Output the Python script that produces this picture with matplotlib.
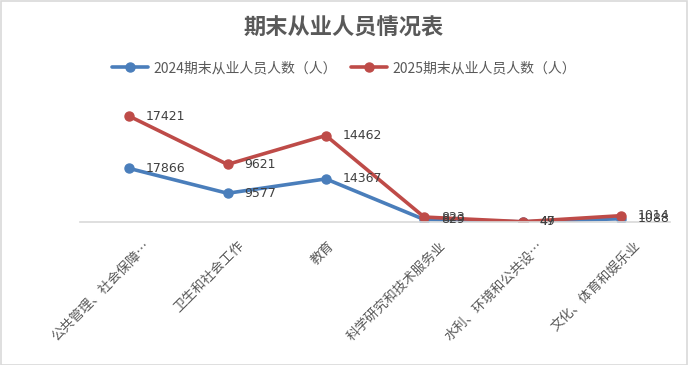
import matplotlib

matplotlib.use("Agg")
import matplotlib.pyplot as plt
import matplotlib.transforms as mtransforms
import numpy as np
from matplotlib.patches import Rectangle

plt.rcParams["font.family"] = ["Noto Sans CJK SC", "DejaVu Sans"]

categories = ["公共管理、社会保障…", "卫生和社会工作", "教育",
              "科学研究和技术服务业", "水利、环境和公共设…", "文化、体育和娱乐业"]
values_2024 = [17866, 9577, 14367, 829, 47, 1088]
values_2025 = [17421, 9621, 14462, 823, 49, 1014]
series_names = ["2024期末从业人员人数（人）", "2025期末从业人员人数（人）"]
colors = ["#4a7ebb", "#be4b48"]

W, H = 688, 365
fig = plt.figure(figsize=(W / 100, H / 100), dpi=100)
fig.patches.append(Rectangle((0.5 / W, 0.5 / H), 1 - 1.5 / W, 1 - 1.5 / H,
                             transform=fig.transFigure, fill=False,
                             edgecolor="#d9d9d9", linewidth=1.2))

# plot area in pixels: x 80..670, y 102..222 (from top)
ax = fig.add_axes([80 / W, (H - 222) / H, 590 / W, 120 / H])
x = np.arange(len(categories))
stack_2024 = np.array(values_2024)
stack_2025 = stack_2024 + np.array(values_2025)

for ys, raw, name, c in [(stack_2024, values_2024, series_names[0], colors[0]),
                         (stack_2025, values_2025, series_names[1], colors[1])]:
    ax.plot(x, ys, color=c, linewidth=2.6, marker="o", markersize=6.5, label=name,
            solid_capstyle="round")
    for xi, yi, v in zip(x, ys, raw):
        ax.annotate(str(v), (xi, yi), xytext=(12, 0), textcoords="offset points",
                    va="center", ha="left", fontsize=9, color="#404040",
                    family=["DejaVu Sans"])

ax.set_xlim(-0.5, len(categories) - 0.5)
ax.set_ylim(0, 40000)
ax.set_yticks([])
for side in ["left", "right", "top"]:
    ax.spines[side].set_visible(False)
ax.spines["bottom"].set_color("#d9d9d9")
ax.spines["bottom"].set_linewidth(1.2)
ax.set_xticks(x)
ax.set_xticklabels(categories, rotation=45, ha="right", rotation_mode="anchor",
                   fontsize=9.6, color="#595959")
ax.tick_params(axis="x", length=0, pad=12)
ax.set_facecolor("none")

# Excel-style placement: longer rotated labels sit a bit further right
fig.canvas.draw()
renderer = fig.canvas.get_renderer()
for lab in ax.get_xticklabels():
    w = lab.get_window_extent(renderer).width
    shift = max(0.0, 0.18 * (w - 25))
    lab.set_transform(lab.get_transform() +
                      mtransforms.ScaledTranslation(shift / 100, 0, fig.dpi_scale_trans))

fig.text(0.5, 1 - 28 / H, "期末从业人员情况表", ha="center", va="center",
         fontsize=16, fontweight="bold", color="#595959")
fig.legend(loc="center", bbox_to_anchor=(0.5, 1 - 68 / H), ncol=2, frameon=False,
           fontsize=10, handlelength=2.6, columnspacing=1.0, handletextpad=0.4,
           labelcolor="#595959")

fig.savefig("out.png", dpi=100, facecolor="white")
